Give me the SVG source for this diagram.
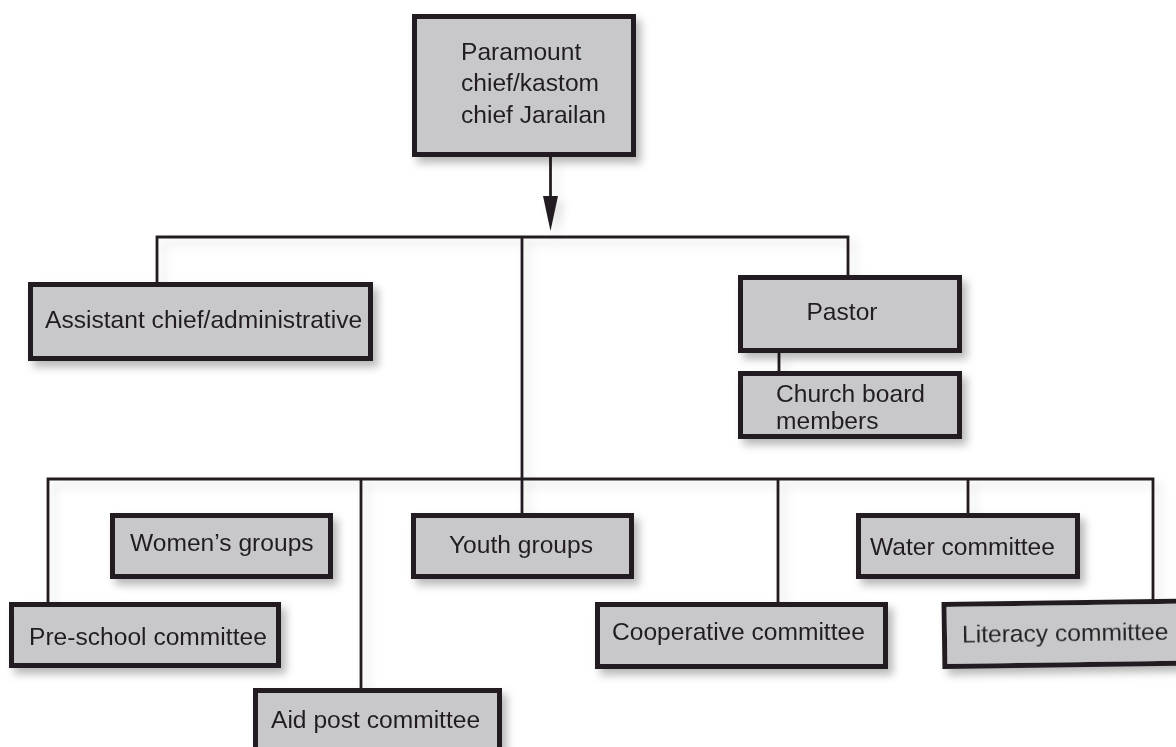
<svg xmlns="http://www.w3.org/2000/svg" width="1176" height="747" viewBox="0 0 1176 747">
<defs>
<filter id="sh" x="-10%" y="-20%" width="130%" height="160%">
<feDropShadow dx="5" dy="6" stdDeviation="4" flood-color="#000" flood-opacity="0.28"/>
</filter>
<filter id="lsh" x="-10%" y="-10%" width="130%" height="130%">
<feDropShadow dx="6" dy="6" stdDeviation="5" flood-color="#000" flood-opacity="0.12"/>
</filter>
<style>
.box{fill:#c8c8ca;stroke:#231f20;stroke-width:5}
.t{font-family:"Liberation Sans",Arial,sans-serif;font-size:24.6px;fill:#231f20}
.c{stroke:#231f20;stroke-width:2.8;fill:none}
</style>
</defs>
<rect width="1176" height="747" fill="#fff"/>
<g id="connectors" filter="url(#lsh)">
<line class="c" x1="550.5" y1="157" x2="550.5" y2="200"/>
<polygon points="543,196 558,196 550.5,231" fill="#231f20"/>
<polyline class="c" points="157,282 157,237 848,237 848,275"/>
<line class="c" x1="522" y1="237" x2="522" y2="513"/>
<line class="c" x1="779" y1="353" x2="779" y2="371"/>
<polyline class="c" points="48,602 48,479 1153,479 1153,602"/>
<line class="c" x1="361" y1="479" x2="361" y2="688"/>
<line class="c" x1="778" y1="479" x2="778" y2="603"/>
<line class="c" x1="968" y1="479" x2="968" y2="513"/>
</g>
<g id="paramount" filter="url(#sh)">
<rect class="box" x="414.5" y="16.5" width="219" height="138"/>
<text class="t" x="461" y="60">Paramount</text>
<text class="t" x="461" y="91">chief/kastom</text>
<text class="t" x="461" y="123">chief Jarailan</text>
</g>
<g id="assistant" filter="url(#sh)">
<rect class="box" x="30.5" y="284.5" width="340" height="74"/>
<text class="t" x="45" y="328">Assistant chief/administrative</text>
</g>
<g id="pastor" filter="url(#sh)">
<rect class="box" x="740.5" y="277.5" width="219" height="73"/>
<text class="t" x="842" y="320" text-anchor="middle">Pastor</text>
</g>
<g id="church" filter="url(#sh)">
<rect class="box" x="740.5" y="373.5" width="219" height="63"/>
<text class="t" x="776" y="402">Church board</text>
<text class="t" x="776" y="429">members</text>
</g>
<g id="women" filter="url(#sh)">
<rect class="box" x="112.5" y="515.5" width="218" height="61"/>
<text class="t" x="130" y="551">Women’s groups</text>
</g>
<g id="youth" filter="url(#sh)">
<rect class="box" x="413.5" y="515.5" width="218" height="61"/>
<text class="t" x="521" y="553" text-anchor="middle">Youth groups</text>
</g>
<g id="water" filter="url(#sh)">
<rect class="box" x="858.5" y="515.5" width="219" height="61"/>
<text class="t" x="870" y="555">Water committee</text>
</g>
<g id="preschool" filter="url(#sh)">
<rect class="box" x="11.5" y="604.5" width="267" height="61"/>
<text class="t" x="29" y="645">Pre-school committee</text>
</g>
<g id="cooperative" filter="url(#sh)">
<rect class="box" x="597.5" y="604.5" width="288" height="62"/>
<text class="t" x="612" y="640">Cooperative committee</text>
</g>
<g id="literacy" filter="url(#sh)" transform="rotate(-0.8 944 636)">
<rect class="box" x="944.5" y="604.5" width="260" height="62"/>
<text class="t" x="962" y="643">Literacy committee</text>
</g>
<g id="aidpost" filter="url(#sh)">
<rect class="box" x="255.5" y="690.5" width="244" height="70"/>
<text class="t" x="271" y="728">Aid post committee</text>
</g>
</svg>
